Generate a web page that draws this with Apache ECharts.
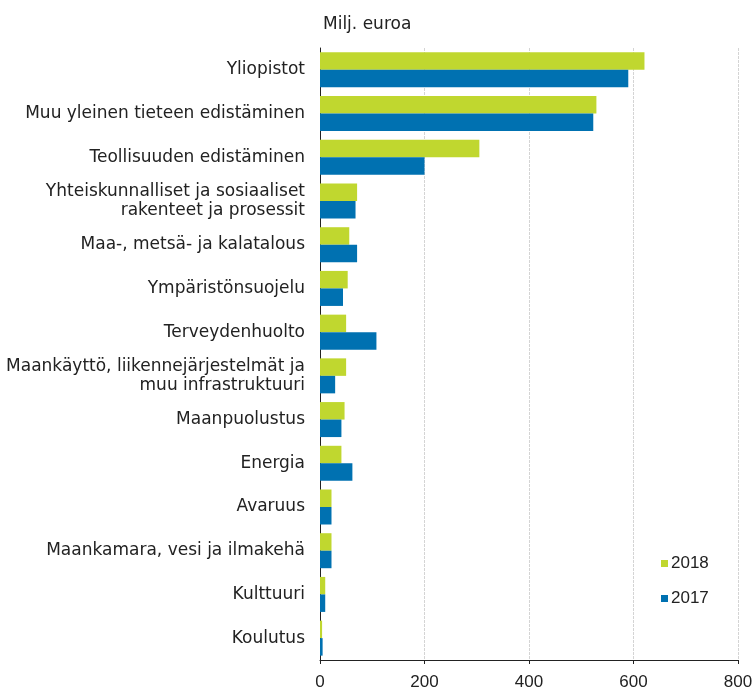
<!doctype html>
<html lang="fi">
<head>
	<meta charset="UTF-8">
	<title>T&amp;K-rahoitus tavoitteittain</title>
	<script src="https://cdn.jsdelivr.net/npm/echarts@6/dist/echarts.min.js"></script>
	<style>
		html, body { margin: 0; padding: 0; background: #fff; }
		#main { width: 756px; height: 691px; }
	</style>
</head>
<body>
	<div id="main"></div>
	<script type="text/javascript">
		var categories = [
			'Yliopistot',
			'Muu yleinen tieteen edistäminen',
			'Teollisuuden edistäminen',
			'Yhteiskunnalliset ja sosiaaliset\nrakenteet ja prosessit',
			'Maa-, metsä- ja kalatalous',
			'Ympäristönsuojelu',
			'Terveydenhuolto',
			'Maankäyttö, liikennejärjestelmät ja\nmuu infrastruktuuri',
			'Maanpuolustus',
			'Energia',
			'Avaruus',
			'Maankamara, vesi ja ilmakehä',
			'Kulttuuri',
			'Koulutus'
		];
		var values2018 = [621, 529, 305, 71, 56, 53, 50, 50, 47, 41, 22, 22, 10, 4];
		var values2017 = [590, 523, 200, 68, 71, 44, 108, 29, 41, 62, 22, 22, 10, 5];
		var xTicks = [0, 200, 400, 600, 800];

		var myChart = echarts.init(document.getElementById('main'));
		var wideFont = '"DejaVu Sans", Verdana, sans-serif';
		var digitFont = '"Liberation Sans", Arial, sans-serif';

		option = {
			animation: false,
			title: {
				text: 'Milj. euroa',
				left: 318,
				top: 11,
				textStyle: { fontSize: 17, fontWeight: 'normal', color: '#222', fontFamily: wideFont }
			},
			legend: {
				orient: 'vertical',
				left: 656,
				top: 550,
				itemWidth: 7,
				itemHeight: 7,
				itemGap: 18,
				icon: 'rect',
				textStyle: { fontSize: 17, color: '#222', fontFamily: digitFont, padding: [0, 0, 0, -2] },
				data: ['2018', '2017']
			},
			grid: {
				left: 320,
				right: 18,
				top: 48,
				bottom: 28,
				containLabel: false
			},
			xAxis: {
				type: 'value',
				min: xTicks[0],
				max: xTicks[xTicks.length - 1],
				interval: 200,
				axisLine: { show: true, lineStyle: { color: '#222', width: 1 } },
				axisTick: { show: true, length: 4, lineStyle: { color: '#222' } },
				axisLabel: { fontSize: 17, color: '#222', margin: 14, fontFamily: digitFont },
				splitLine: { show: true, lineStyle: { color: '#d4d4d4', type: [3, 1] } }
			},
			yAxis: {
				type: 'category',
				inverse: true,
				data: categories,
				axisLine: { show: true, lineStyle: { color: '#222', width: 1 } },
				axisTick: { show: false },
				axisLabel: { fontSize: 17, color: '#222', margin: 15, lineHeight: 19, padding: [3, 0, 0, 0], fontFamily: wideFont, align: 'right' }
			},
			series: [
				{
					name: '2018',
					type: 'bar',
					data: values2018,
					barWidth: 17.5,
					barGap: '0%',
					itemStyle: { color: '#c0d72f' }
				},
				{
					name: '2017',
					type: 'bar',
					data: values2017,
					barWidth: 17.5,
					barGap: '0%',
					itemStyle: { color: '#0071b1' }
				}
			]
		};
		myChart.setOption(option);
	</script>
</body>
</html>
